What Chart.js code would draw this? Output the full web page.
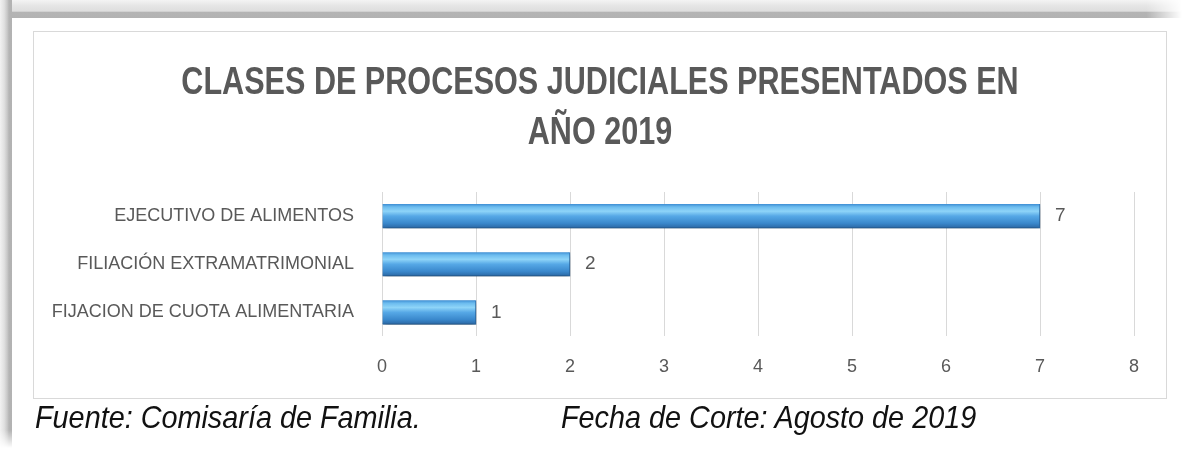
<!DOCTYPE html>
<html>
<head>
<meta charset="utf-8">
<script src="https://cdn.jsdelivr.net/npm/chart.js@4.4.1/dist/chart.umd.min.js"></script>
<style>
  html,body{margin:0;padding:0;background:#fff;}
  body{width:1186px;height:462px;position:relative;overflow:hidden;}
  #bandTop{position:absolute;left:0;top:0;width:1182px;height:18px;
    background:linear-gradient(to bottom,#f4f4f4 0%,#e6e6e6 30%,#dedede 62%,#b4b4b4 68%,#b2b2b2 100%);
    -webkit-mask-image:linear-gradient(to right,#000 97%,transparent 100%);}
  #bandLeft{position:absolute;left:0;top:0;width:12px;height:448px;
    background:linear-gradient(to right,#f2f2f2 0%,#e0e0e0 35%,#c8c8c8 60%,#b4b4b4 75%,#b2b2b2 100%);
    -webkit-mask-image:linear-gradient(to bottom,#000 96%,transparent 100%);}
  #box{position:absolute;left:33px;top:31px;width:1132px;height:366px;border:1px solid #d9d9d9;background:#fff;}
  #box canvas{display:block;}
  .foot{position:absolute;top:401px;font-family:"Liberation Sans",Arial,sans-serif;font-style:italic;
    font-size:32px;line-height:32px;color:#111;white-space:nowrap;transform:scaleX(0.9);transform-origin:0 0;}
</style>
</head>
<body>
<div id="bandTop"></div>
<div id="bandLeft"></div>
<div id="box"><canvas id="c" width="1132" height="366"></canvas></div>
<div class="foot" style="left:35px">Fuente: Comisaría de Familia.</div>
<div class="foot" style="left:561px">Fecha de Corte: Agosto de 2019</div>
<script>
const TITLE = ['CLASES DE PROCESOS JUDICIALES PRESENTADOS EN', 'AÑO 2019'];
const categories = ['EJECUTIVO DE ALIMENTOS', 'FILIACIÓN EXTRAMATRIMONIAL', 'FIJACION DE CUOTA ALIMENTARIA'];
const values = [7, 2, 1];
const xMin = 0, xMax = 8, xStep = 1;

const GRAY = '#595959';
const FONT = "'Liberation Sans', Arial, sans-serif";

function barFill(c){
  const ch = c.chart, y = ch.scales.y;
  if(!y || !ch.chartArea) return '#4a9fe0';
  const cy = y.getPixelForValue(c.dataIndex), h = 12;
  const g = ch.ctx.createLinearGradient(0, cy-h, 0, cy+h);
  g.addColorStop(0, '#3f8fd4');
  g.addColorStop(0.12, '#6cbcef');
  g.addColorStop(0.3, '#8ed4f8');
  g.addColorStop(0.5, '#56a8e6');
  g.addColorStop(0.8, '#3a88cc');
  g.addColorStop(1, '#2a67a3');
  return g;
}

// title drawn a little condensed, like the narrow font of the original
const narrowTitle = {
  id:'narrowTitle',
  afterDraw(chart){
    const ctx = chart.ctx;
    ctx.save();
    ctx.font = "bold 38px " + FONT;
    ctx.fillStyle = GRAY;
    ctx.textAlign = 'center';
    ctx.textBaseline = 'alphabetic';
    TITLE.forEach((line,i)=>{
      ctx.save();
      ctx.translate(chart.width/2, 62 + i*50);
      ctx.scale(0.805, 1);
      ctx.fillText(line, 0, 0);
      ctx.restore();
    });
    ctx.restore();
  }
};

const valueLabels = {
  id:'valueLabels',
  afterDatasetsDraw(chart){
    const ctx = chart.ctx;
    ctx.save();
    ctx.font = "19px " + FONT;
    ctx.fillStyle = GRAY;
    ctx.textAlign = 'left';
    ctx.textBaseline = 'middle';
    chart.getDatasetMeta(0).data.forEach((bar,i)=>{
      ctx.fillText(String(values[i]), bar.x + 15, bar.y);
    });
    ctx.restore();
  }
};

const barShadow = {
  id:'barShadow',
  beforeDatasetsDraw(chart){
    const ctx = chart.ctx;
    ctx.save();
    ctx.shadowColor = 'rgba(0,0,0,0.35)';
    ctx.shadowBlur = 5;
    ctx.shadowOffsetX = 1;
    ctx.shadowOffsetY = 3;
  },
  afterDatasetsDraw(chart){ chart.ctx.restore(); }
};

new Chart(document.getElementById('c'), {
  type:'bar',
  data:{labels:categories, datasets:[{
    data:values,
    backgroundColor:barFill,
    borderColor:'#2f73b4',
    borderWidth:{top:0,left:0,bottom:1,right:1},
    borderSkipped:false,
    barThickness:24
  }]},
  options:{
    indexAxis:'y',
    responsive:false,
    animation:false,
    layout:{padding:{left:0,right:32,top:160,bottom:0}},
    plugins:{
      legend:{display:false},
      tooltip:{enabled:false},
      title:{display:false}
    },
    scales:{
      x:{min:xMin, max:xMax,
        grid:{color:'#d9d9d9', drawTicks:false, lineWidth:1},
        border:{display:false},
        ticks:{stepSize:xStep, color:GRAY, font:{family:FONT, size:18}, padding:20}},
      y:{grid:{display:false}, border:{display:false},
        afterFit(s){ s.width = 348; },
        ticks:{color:GRAY, font:{family:FONT, size:18}, padding:20}}
    }
  },
  plugins:[barShadow, valueLabels, narrowTitle]
});
</script>
</body>
</html>
